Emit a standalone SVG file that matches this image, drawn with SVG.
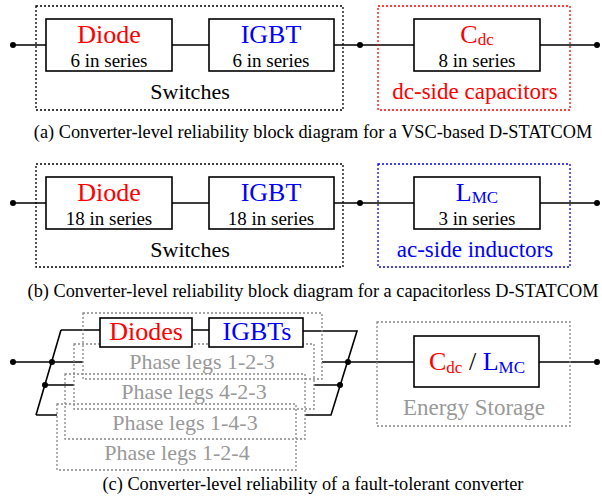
<svg xmlns="http://www.w3.org/2000/svg" width="602" height="501" viewBox="0 0 602 501" font-family="Liberation Serif, serif">
<style>
text{font-family:'Liberation Serif',serif;text-anchor:middle}
.blk{fill:#fff;stroke:#000;stroke-width:1.6}
.dot{stroke-dasharray:2 2;stroke-width:1.3;fill:none}
.ln{stroke:#000;stroke-width:1.6;fill:none}
.big{font-size:26px}
.mid{font-size:19px}
.grp{font-size:22px}
.grp2{font-size:23px}
.cap{font-size:18.3px;fill:#000}
.red{fill:#ff0000}
.blue{fill:#0000ff}
.gray{fill:#999}
.sub{font-size:17px}
</style>
<g id="connectors">
<path class="ln" d="M13 45H46M172 45H209M334 45H414M540 45H597"/>
<path class="ln" d="M13 203H46M172 203H209M334 203H414M540 203H597"/>
<path class="ln" d="M13 362H83M44 385H74M36 415H57M61 330L36 415M61 330H100M192 330H209M303 331H357L331 415H305M314 385H340M322 362H414M539 362H597"/>
<circle cx="13" cy="45" r="3"/><circle cx="360" cy="45" r="3"/><circle cx="597" cy="45" r="3"/>
<circle cx="13" cy="203" r="3"/><circle cx="360" cy="203" r="3"/><circle cx="597" cy="203" r="3"/>
<circle cx="13" cy="362" r="3"/><circle cx="52" cy="362" r="3"/><circle cx="45" cy="385" r="3"/>
<circle cx="348" cy="362" r="3"/><circle cx="340" cy="385" r="3"/><circle cx="597" cy="362" r="3"/>
</g>
<g id="a-switches"><rect class="dot" x="36" y="6" width="307" height="104" stroke="#000"/><text class="grp" x="190" y="99">Switches</text></g>
<g id="a-diode"><rect class="blk" x="46" y="19" width="126" height="52"/><text class="big red" x="109" y="43">Diode</text><text class="mid" x="109" y="67">6 in series</text></g>
<g id="a-igbt"><rect class="blk" x="209" y="19" width="125" height="52"/><text class="big blue" x="271" y="43">IGBT</text><text class="mid" x="271" y="67">6 in series</text></g>
<g id="a-caps"><rect class="dot" x="378" y="6" width="192" height="104" stroke="#ff0000"/><text class="grp2 red" x="475" y="99">dc-side capacitors</text></g>
<g id="a-cdc"><rect class="blk" x="414" y="19" width="126" height="52"/><text class="big red" x="477" y="43">C<tspan class="sub" dy="2">dc</tspan></text><text class="mid" x="477" y="67">8 in series</text></g>
<text class="cap" x="313" y="138">(a) Converter-level reliability block diagram for a VSC-based D-STATCOM</text>

<g id="b-switches"><rect class="dot" x="36" y="164" width="307" height="103" stroke="#000"/><text class="grp" x="190" y="257">Switches</text></g>
<g id="b-diode"><rect class="blk" x="46" y="177" width="126" height="52"/><text class="big red" x="109" y="201">Diode</text><text class="mid" x="109" y="225">18 in series</text></g>
<g id="b-igbt"><rect class="blk" x="209" y="177" width="125" height="52"/><text class="big blue" x="271" y="201">IGBT</text><text class="mid" x="271" y="225">18 in series</text></g>
<g id="b-inductors"><rect class="dot" x="378" y="164" width="192" height="103" stroke="#0000ff"/><text class="grp2 blue" x="475" y="257">ac-side inductors</text></g>
<g id="b-lmc"><rect class="blk" x="414" y="177" width="126" height="52"/><text class="big blue" x="477" y="201">L<tspan class="sub" dy="2">MC</tspan></text><text class="mid" x="477" y="225">3 in series</text></g>
<text class="cap" x="313" y="297">(b) Converter-level reliability block diagram for a capacitorless D-STATCOM</text>

<g id="c-leg4"><rect class="dot" x="57" y="404" width="239" height="66" stroke="#888" fill="#fff"/><text class="grp gray" x="177" y="460">Phase legs 1-2-4</text></g>
<g id="c-leg3"><rect class="dot" x="65" y="374" width="240" height="65" stroke="#888" fill="#fff"/><text class="grp gray" x="185" y="430">Phase legs 1-4-3</text></g>
<g id="c-leg2"><rect class="dot" x="74" y="344" width="240" height="65" stroke="#888" fill="#fff"/><text class="grp gray" x="194" y="399">Phase legs 4-2-3</text></g>
<g id="c-leg1"><rect class="dot" x="83" y="313" width="239" height="66" stroke="#888" fill="#fff"/><text class="grp gray" x="202" y="369">Phase legs 1-2-3</text></g>
<g id="c-diodes"><rect class="blk" x="100" y="318" width="92" height="29"/><text class="big red" x="146" y="340">Diodes</text></g>
<g id="c-igbts"><rect class="blk" x="209" y="318" width="94" height="29"/><text class="big blue" x="257" y="340">IGBTs</text></g>
<g id="c-storage"><rect class="dot" x="377" y="322" width="193" height="104" stroke="#888"/><text class="grp2 gray" x="474" y="415">Energy Storage</text></g>
<g id="c-cl"><rect class="blk" x="414" y="336" width="125" height="51"/><text class="big" x="477" y="370"><tspan class="red">C</tspan><tspan class="sub red" dy="3">dc</tspan><tspan dy="-3"> / </tspan><tspan class="blue">L</tspan><tspan class="sub blue" dy="3">MC</tspan></text></g>
<text class="cap" x="313" y="490">(c) Converter-level reliability of a fault-tolerant converter</text>
</svg>
